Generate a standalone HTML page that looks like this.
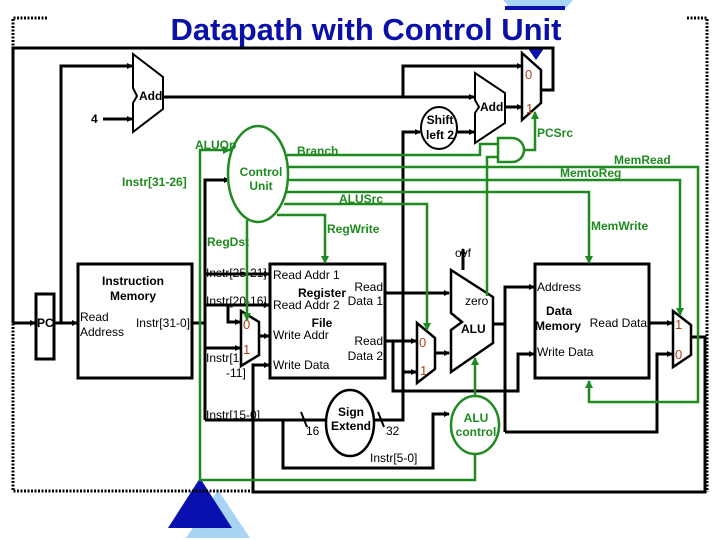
<!DOCTYPE html>
<html><head><meta charset="utf-8"><style>
html,body{margin:0;padding:0;background:#fff;}
svg{display:block;}
text{font-family:"Liberation Sans",Arial,sans-serif;}
.k{stroke:#000;stroke-width:3;fill:none;}
.g{stroke:#1f8a1f;stroke-width:2.5;fill:none;}
.t{font-size:12px;fill:#000;}
.b{font-size:12px;font-weight:bold;fill:#000;}
.gt{font-size:12px;font-weight:bold;fill:#1f8a1f;}
.m{font-size:13px;fill:#b0401a;}
.d{stroke:#000;stroke-width:3;stroke-dasharray:2 1.5;fill:none;}
</style></head><body>
<svg width="720" height="540" viewBox="0 0 720 540" xmlns="http://www.w3.org/2000/svg">
<defs>
<marker id="a" markerWidth="6" markerHeight="6" refX="5" refY="3" orient="auto" markerUnits="userSpaceOnUse"><path d="M0,0 L6,3 L0,6z" fill="#000"/></marker>
<marker id="ag" markerWidth="8" markerHeight="8" refX="7" refY="4" orient="auto" markerUnits="userSpaceOnUse"><path d="M0,0 L8,4 L0,8z" fill="#1f8a1f"/></marker>
</defs>
<!-- blue decor -->
<polygon points="503,0 573,0 566,8 510,8" fill="#a8d4f4"/>
<rect x="505" y="6" width="60" height="4" fill="#0a10b0"/>
<polygon points="527,47 545,47 536,60" fill="#0a10b0"/>
<polygon points="218,490 186,538 250,538" fill="#a8d4f4"/>
<polygon points="200,478 168,528 232,528" fill="#0a10b0"/>
<!-- title -->
<text x="366" y="40" text-anchor="middle" style="font-size:31px;font-weight:bold;fill:#0a10a8">Datapath with Control Unit</text>
<!-- frame dotted -->
<path class="d" d="M47,18 H13 V491 H253"/>
<path class="d" d="M687,18 H707 V492"/>
<!-- PC loop -->
<path class="k" d="M541,90 H553 V48 H13 V323" />
<path class="k" d="M13,323 H35" marker-end="url(#a)"/>
<rect x="36" y="294" width="18" height="65" class="k" stroke-width="2.5"/>
<text x="37" y="327" class="b">PC</text>
<path class="k" d="M54,323 H77" marker-end="url(#a)"/>
<path class="k" d="M61,323 V66 H132" marker-end="url(#a)"/>
<!-- Instr mem -->
<rect x="78" y="264" width="114" height="114" class="k" stroke-width="2.5"/>
<text x="133" y="285" text-anchor="middle" class="b">Instruction</text>
<text x="133" y="300" text-anchor="middle" class="b">Memory</text>
<text x="80" y="321" class="t">Read</text>
<text x="80" y="336" class="t">Address</text>
<text x="190" y="327" text-anchor="end" class="t">Instr[31-0]</text>
<!-- Add1 -->
<path d="M133,54 L163,77 L163,109 L133,132 L133,103 L137,96 L133,88 Z" fill="#fff" stroke="#000" stroke-width="2"/>
<text x="139" y="100" class="b">Add</text>
<text x="91" y="123" class="b">4</text>
<path class="k" d="M103,119 H132" marker-end="url(#a)"/>
<path class="k" d="M163,97 H474" marker-end="url(#a)"/>
<path class="k" d="M403,97 V66 H522" marker-end="url(#a)"/>
<!-- Add2 -->
<path d="M475,73 L505,93 L505,123 L475,143 L475,113 L479,107 L475,100 Z" fill="#fff" stroke="#000" stroke-width="2"/>
<text x="480" y="111" class="b">Add</text>
<path class="k" d="M505,107 H522" marker-end="url(#a)"/>
<!-- Shift -->
<ellipse cx="439" cy="128" rx="18" ry="21" fill="#fff" stroke="#000" stroke-width="2"/>
<text x="440" y="124" text-anchor="middle" class="b">Shift</text>
<text x="440" y="139" text-anchor="middle" class="b">left 2</text>
<path class="k" d="M457,132 H474" marker-end="url(#a)"/>
<!-- PCSrc mux -->
<path d="M522,53 L541,70 L541,103 L522,120 Z" fill="#fff" stroke="#000" stroke-width="2.5"/>
<text x="525" y="79" class="m">0</text>
<text x="526" y="113" class="m">1</text>
<!-- bus -->
<path class="k" d="M192,323 H205"/>
<path class="k" d="M205,420 V180 H229" marker-end="url(#a)"/>
<path class="k" d="M205,274 H269" marker-end="url(#a)"/>
<path class="k" d="M205,305 H269" marker-end="url(#a)"/>
<path class="k" d="M228,305 V322 H240" marker-end="url(#a)"/>
<path class="k" d="M205,348 H240" marker-end="url(#a)"/>
<path class="k" d="M205,420 H326"/>
<path class="k" d="M283,420 V468 H433 V414 H449" marker-end="url(#a)"/>
<path stroke="#000" stroke-width="2" d="M301,412 L307,427 M378,412 L384,427"/>
<text x="306" y="435" class="t">16</text>
<text x="386" y="435" class="t">32</text>
<text x="206" y="277" class="t">Instr[25-21]</text>
<text x="206" y="305" class="t">Instr[20-16]</text>
<text x="206" y="362" class="t">Instr[15</text>
<text x="226" y="377" class="t">-11]</text>
<text x="206" y="419" class="t">Instr[15-0]</text>
<text x="370" y="462" class="t">Instr[5-0]</text>
<!-- RegDst mux -->
<path d="M241,311 L259,322 L259,355 L241,366 Z" fill="#fff" stroke="#000" stroke-width="2.5"/>
<text x="243" y="329" class="m">0</text>
<text x="243" y="354" class="m">1</text>
<path class="k" d="M259,336 H269" marker-end="url(#a)"/>
<!-- Reg file -->
<rect x="270" y="264" width="115" height="114" class="k" stroke-width="2.5"/>
<text x="273" y="279" class="t">Read Addr 1</text>
<text x="322" y="297" text-anchor="middle" class="b">Register</text>
<text x="273" y="309" class="t">Read Addr 2</text>
<text x="322" y="327" text-anchor="middle" class="b">File</text>
<text x="273" y="339" class="t">Write Addr</text>
<text x="273" y="369" class="t">Write Data</text>
<text x="383" y="291" text-anchor="end" class="t">Read</text>
<text x="383" y="305" text-anchor="end" class="t">Data 1</text>
<text x="383" y="345" text-anchor="end" class="t">Read</text>
<text x="383" y="360" text-anchor="end" class="t">Data 2</text>
<!-- writeback loop -->
<path class="k" d="M691,337 H705 V492 H253 V365 H269" marker-end="url(#a)"/>
<!-- sign extend -->
<ellipse cx="350" cy="423" rx="24" ry="33" fill="#fff" stroke="#000" stroke-width="2.5"/>
<text x="351" y="416" text-anchor="middle" class="b">Sign</text>
<text x="351" y="430" text-anchor="middle" class="b">Extend</text>
<path class="k" d="M374,420 H403 V132 H420" marker-end="url(#a)"/>
<path class="k" d="M403,372 H416" marker-end="url(#a)"/>
<!-- read data paths -->
<path class="k" d="M385,293 H449" marker-end="url(#a)"/>
<path class="k" d="M385,341 H416" marker-end="url(#a)"/>
<path class="k" d="M393,341 V391 H518 V354 H534" marker-end="url(#a)"/>
<!-- ALUSrc mux -->
<path d="M417,323 L435,338 L435,369 L417,383 Z" fill="#fff" stroke="#000" stroke-width="2.5"/>
<text x="419" y="347" class="m">0</text>
<text x="420" y="375" class="m">1</text>
<path class="k" d="M435,353 H449" marker-end="url(#a)"/>
<!-- ALU -->
<path d="M451,270 L493,297 L493,343 L451,372 L451,330 L462,322 L451,313 Z" fill="#fff" stroke="#000" stroke-width="2.5"/>
<text x="461" y="333" class="b">ALU</text>
<text x="465" y="305" class="t">zero</text>
<path class="k" d="M463,270 V249" marker-end="url(#a)"/>
<text x="455" y="257" class="t">ovf</text>
<path class="k" d="M493,324 H505"/>
<path class="k" d="M505,432 V287 H534" marker-end="url(#a)"/>
<path class="k" d="M505,432 H657 V354 H672" marker-end="url(#a)"/>
<!-- Data mem -->
<rect x="535" y="264" width="114" height="114" class="k" stroke-width="2.5"/>
<text x="537" y="291" class="t">Address</text>
<text x="559" y="315" text-anchor="middle" class="b">Data</text>
<text x="535" y="330" class="b">Memory</text>
<text x="647" y="327" text-anchor="end" class="t">Read Data</text>
<text x="537" y="356" class="t">Write Data</text>
<path class="k" d="M649,323 H672" marker-end="url(#a)"/>
<!-- MemtoReg mux -->
<path d="M673,311 L691,325 L691,355 L673,367 Z" fill="#fff" stroke="#000" stroke-width="2.5"/>
<text x="675" y="329" class="m">1</text>
<text x="675" y="359" class="m">0</text>
<!-- green control -->
<ellipse cx="258" cy="174" rx="30" ry="48" fill="#fff" stroke="#1f8a1f" stroke-width="2.5"/>
<text x="261" y="176" text-anchor="middle" class="gt">Control</text>
<text x="261" y="190" text-anchor="middle" class="gt">Unit</text>
<path class="g" d="M287,155 H480 V144 H498"/>
<path class="g" d="M288,167 H698 V402 H589 V381" marker-end="url(#ag)"/>
<path class="g" d="M288,180 H680 V315" marker-end="url(#ag)"/>
<path class="g" d="M287,192 H589 V263" marker-end="url(#ag)"/>
<path class="g" d="M284,204 H427 V330" marker-end="url(#ag)"/>
<path class="g" d="M277,215 H325 V263" marker-end="url(#ag)"/>
<path class="g" d="M247,220 V320" marker-end="url(#ag)"/>
<path class="g" d="M475,455 V480 H200 V150 H230" marker-end="url(#ag)"/>
<path class="g" d="M475,396 V358" marker-end="url(#ag)"/>
<path class="g" d="M487,296 V157 H498"/>
<path d="M498,138 H512 A12,12 0 0 1 512,162 H498 Z" fill="#fff" stroke="#1f8a1f" stroke-width="2.5"/>
<path class="g" d="M524,150 H535 V112" marker-end="url(#ag)"/>
<ellipse cx="475" cy="425" rx="24" ry="29" fill="#fff" stroke="#1f8a1f" stroke-width="2.5"/>
<text x="476" y="422" text-anchor="middle" class="gt">ALU</text>
<text x="476" y="436" text-anchor="middle" class="gt">control</text>
<text x="195" y="149" class="gt">ALUOp</text>
<text x="297" y="155" class="gt">Branch</text>
<text x="122" y="186" class="gt">Instr[31-26]</text>
<text x="339" y="203" class="gt">ALUSrc</text>
<text x="327" y="233" class="gt">RegWrite</text>
<text x="207" y="246" class="gt">RegDst</text>
<text x="537" y="137" class="gt">PCSrc</text>
<text x="614" y="164" class="gt">MemRead</text>
<text x="560" y="177" class="gt">MemtoReg</text>
<text x="591" y="230" class="gt">MemWrite</text>
</svg>
</body></html>
